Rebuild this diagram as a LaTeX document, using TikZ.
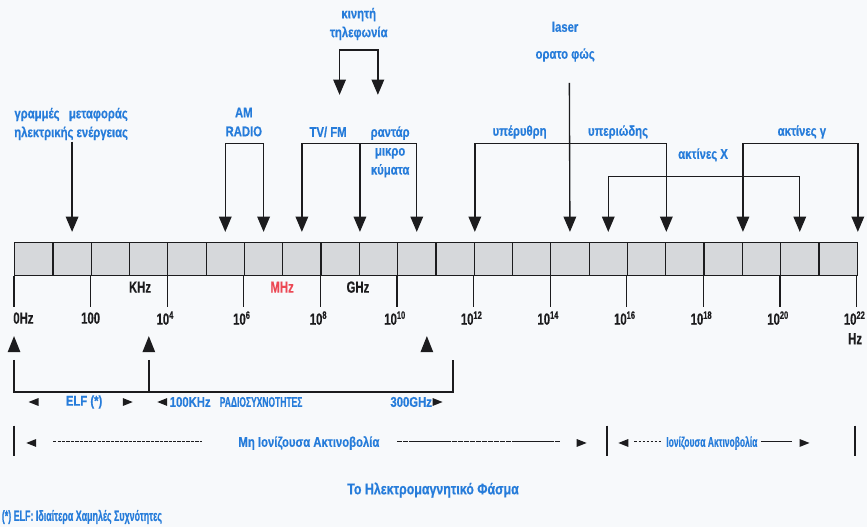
\documentclass[tikz,border=0pt]{standalone}
\usepackage{fontspec}
\setmainfont{Liberation Sans}[FakeStretch=0.8,FakeBold=0.5]
\newfontfamily\numfont{Liberation Sans}[FakeStretch=0.7,FakeBold=0.3]
\newfontfamily\tightfont{Liberation Sans}[FakeStretch=0.6,FakeBold=0.5]
\usetikzlibrary{arrows.meta,positioning}
\definecolor{ink}{RGB}{28,28,30}
\definecolor{sky}{RGB}{38,124,218}
\definecolor{barfill}{RGB}{214,216,219}
\definecolor{alarm}{RGB}{236,72,84}
\definecolor{paper}{RGB}{247,249,251}
\tikzset{
  >={Triangle[length=4mm,width=3.3mm]},
  cell/.style={draw=ink,fill=barfill,line width=0.9pt,minimum width=1cm,
    minimum height=8.6mm,inner sep=0,anchor=south west},
  lbl/.style={text=sky,font=\fontsize{10.5}{14}\selectfont\bfseries,align=center,inner sep=1pt},
  squeeze/.style={lbl,font=\tightfont\fontsize{10.5}{14}\selectfont\bfseries},
  scale lbl/.style={text=ink,font=\numfont\fontsize{12}{14}\selectfont\bfseries,inner sep=1pt},
  wire/.style={draw=ink,line width=1pt},
  pointer/.style={wire,->,shorten >=2.6mm},
  fork/.style={wire,<->},
  down fork/.style={fork,shorten <=2.6mm,shorten >=2.6mm},
  % filled triangle, tip at the origin, pointing along +x
  pics/tip/.style={code={
    \fill[ink] (0,0) -- (-#1,0.4*#1) -- (-#1,-0.4*#1) -- cycle;
  }},
  pics/tip/.default=0.26,
}
\begin{document}
\begin{tikzpicture}
  \fill[paper] (-0.366,-6.554) rectangle (22.271,7.206);
  \useasboundingbox (-0.366,-6.554) rectangle (22.271,7.206);
  % frequency bar
  \foreach \i in {0,...,21} \node[cell] (c\i) at (\i,0) {};
  \foreach \i in {0,2,...,22} \draw[wire] (\i,0) -- (\i,-0.81);
  \node[scale lbl,anchor=west] (f0) at (-0.06,-1.10) {0Hz};
  \node[scale lbl] (f2) at (2,-1.10) {100};
  \foreach \i in {4,6,...,22} \node[scale lbl] (f\i) at (\i-0.05,-1.10) {10\textsuperscript{\i}};
  \node[scale lbl] (khz) at (3.29,-0.29) {KHz};
  \node[scale lbl,text=alarm] (mhz) at (7.0,-0.29) {MHz};
  \node[scale lbl] (ghz) at (8.98,-0.29) {GHz};
  \node[scale lbl] (hz) at (21.96,-1.64) {Hz};
  % sources above the bar
  \node[lbl] (grid) at (1.49,3.97) {γραμμές\ \ \ μεταφοράς\\ηλεκτρικής ενέργειας};
  \draw[pointer] (c1.north |- grid.south) -- (c1.north);
  \node[lbl] (am) at (6,4.02) {AM\\RADIO};
  \draw[down fork] (c5.north) -- ++(0,2.56) -| (c6.north);
  \node[lbl] (tv) at (8.2,3.76) {TV/ FM};
  \node[lbl] (radar) at (9.82,3.24) {ραντάρ\\μικρο\\κύματα};
  \draw[down fork] (c7.north) -- ++(0,2.56) -| (c10.north);
  \draw[pointer] ([yshift=2.56cm]c8.north east) -- (c8.north east);
  \node[lbl] (mob) at (9,6.58) {κινητή\\τηλεφωνία};
  \coordinate (mobL) at (8.5,4.73);
  \coordinate (mobR) at (9.5,4.73);
  \draw[fork] (mobL) -- ++(0,1.17) -| (mobR);
  \node[lbl] (ir) at (13.2,3.76) {υπέρυθρη};
  \node[lbl] (uv) at (15.77,3.76) {υπεριώδης};
  \draw[down fork] (c11.north east) -- ++(0,2.56) -| (c16.north east);
  \node[lbl] (vis) at (14.39,6.12) {laser\\[6pt]ορατο φώς};
  \coordinate (visfoot) at (14.5,5.04);
  \draw[pointer] (visfoot) -- (c14.north);
  \node[lbl] (xr) at (17.99,3.16) {ακτίνες X};
  \draw[down fork] (c15.north) -- ++(0,1.70) -| (c20.north);
  \node[lbl] (gam) at (20.57,3.76) {ακτίνες γ};
  \draw[down fork] (c18.north east) -- ++(0,2.56) -| (c21.north east);
  % ranges below the bar
  \foreach \x in {0,3.52,10.78} \pic[rotate=90] at (\x,-1.57) {tip=0.42};
  \coordinate (elfL) at (0,-2.19);
  \coordinate (elfR) at (3.52,-2.19);
  \coordinate (radR) at (11.46,-2.19);
  \draw[wire] (elfL) -- ++(0,-0.84) -| (radR);
  \draw[wire] (elfR) -- ++(0,-0.84);
  \pic[rotate=180] at (0.38,-3.29) {tip};
  \node[lbl] (elf) at (1.83,-3.29) {ELF (*)};
  \pic at (3.10,-3.29) {tip};
  \pic[rotate=180] at (3.74,-3.29) {tip};
  \node[lbl] (lo) at (4.6,-3.29) {100KHz};
  \node[squeeze] (rf) at (6.45,-3.29) {ΡΑΔΙΟΣΥΧΝΟΤΗΤΕΣ};
  \node[lbl] (hi) at (10.37,-3.29) {300GHz};
  \pic at (11.19,-3.29) {tip};
  % ionising / non ionising
  \foreach \x in {0,15.48,21.96} \draw[wire] (\x,-3.91) -- (\x,-4.70);
  \pic[rotate=180] at (0.32,-4.36) {tip};
  \draw[ink,line width=0.8pt,dash pattern=on 2.5pt off 0.8pt] (1.02,-4.33) -- (4.91,-4.33);
  \node[lbl] (nonion) at (7.7,-4.36) {Μη Ιονίζουσα Ακτινοβολία};
  \draw[ink,line width=0.8pt,dash pattern=on 4pt off 0.5pt] (10.0,-4.33) -- (14.26,-4.33);
  \pic at (14.95,-4.36) {tip};
  \pic[rotate=180] at (15.78,-4.36) {tip};
  \draw[ink,line width=0.8pt,dash pattern=on 2pt off 1pt] (16.2,-4.33) -- (16.9,-4.33);
  \node[squeeze] (ion) at (18.22,-4.36) {Ιονίζουσα Ακτινοβολία};
  \draw[ink,line width=0.8pt] (19.5,-4.33) -- (20.3,-4.33);
  \pic at (20.77,-4.36) {tip};
  % caption
  \node[lbl,font=\fontsize{11.5}{14}\selectfont\bfseries] (title) at (10.94,-5.59) {Το Ηλεκτρομαγνητικό Φάσμα};
  \node[squeeze,anchor=west,font=\tightfont\fontsize{11}{13}\selectfont\bfseries] (note) at (-0.36,-6.29) {(*) ELF: Ιδιαίτερα Χαμηλές Συχνότητες};
\end{tikzpicture}
\end{document}
